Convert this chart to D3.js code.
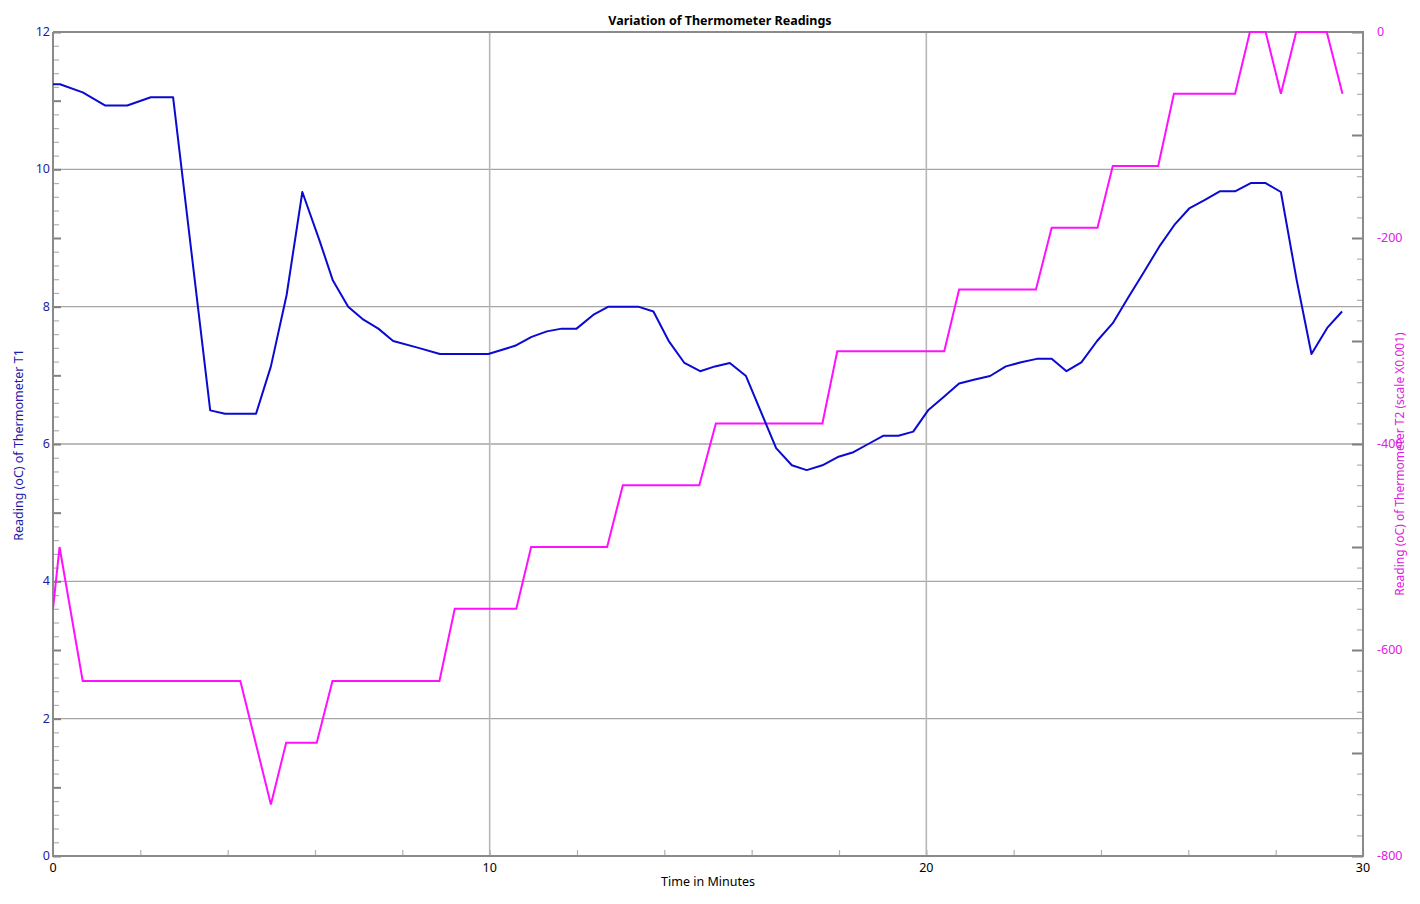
<!DOCTYPE html>
<html><head><meta charset="utf-8">
<script src="https://cdn.jsdelivr.net/npm/d3@7"></script>
<style>
html,body{margin:0;padding:0;background:#fff;}
svg text{font-family:"Noto Sans","Open Sans",sans-serif;}
</style></head>
<body><svg id="c" width="1420" height="904"></svg>
<script>
// Data (time in minutes)
const t1Time = [0,0.16,0.68,1.19,1.70,2.24,2.75,3.60,3.94,4.65,4.99,5.35,5.71,6.10,6.41,6.76,7.11,7.45,7.79,8.37,8.86,9.97,10.58,10.96,11.31,11.65,11.99,12.37,12.72,13.40,13.75,14.11,14.46,14.82,15.16,15.50,15.87,16.56,16.92,17.26,17.62,17.97,18.33,18.67,19.01,19.36,19.70,20.04,20.39,20.75,21.11,21.46,21.82,22.17,22.53,22.87,23.21,23.55,23.91,24.27,24.62,24.97,25.33,25.68,26.02,26.37,26.72,27.07,27.43,27.77,28.12,28.48,28.82,29.18,29.52];
const t1Value = [11.24,11.24,11.12,10.93,10.93,11.05,11.05,6.49,6.44,6.44,7.13,8.17,9.67,8.97,8.38,8.0,7.81,7.68,7.50,7.40,7.31,7.31,7.43,7.56,7.64,7.68,7.68,7.88,8.0,8.0,7.93,7.49,7.18,7.06,7.13,7.18,6.99,5.94,5.69,5.62,5.69,5.81,5.88,6.0,6.12,6.12,6.18,6.49,6.68,6.88,6.94,6.99,7.13,7.19,7.24,7.24,7.06,7.19,7.50,7.76,8.13,8.49,8.87,9.19,9.43,9.55,9.68,9.68,9.80,9.80,9.67,8.39,7.31,7.69,7.93];
const t2Time = [0,0.15,0.68,4.29,4.99,5.34,6.04,6.40,8.85,9.20,10.61,10.95,12.69,13.05,14.80,15.18,17.62,17.96,20.41,20.75,22.51,22.87,23.92,24.27,25.31,25.67,27.07,27.41,27.77,28.12,28.47,29.17,29.53];
const t2Value = [-560,-500,-630,-630,-750,-690,-690,-630,-630,-560,-560,-500,-500,-440,-440,-380,-380,-310,-310,-250,-250,-190,-190,-130,-130,-60,-60,0,0,-60,0,0,-60];
const xTickLabels = [0,10,20,30];
const yLeftTickLabels = [0,2,4,6,8,10,12];
const yRightTickLabels = [0,-200,-400,-600,-800];

const svg = d3.select("#c");
const L=53,R=1363,T=32,B=856;
const x = d3.scaleLinear().domain([0,30]).range([L,R]);
const yL = d3.scaleLinear().domain([0,12]).range([B,T]);
const yR = d3.scaleLinear().domain([-800,0]).range([B,T]);

const blueText="#1c1ca8", magText="#e020e0", axisCol="#8a8a8a";

// grid
const g = svg.append("g");
g.selectAll("line.hg").data([2,4,6,8,10]).join("line")
  .attr("x1",L).attr("x2",R).attr("y1",d=>yL(d)).attr("y2",d=>yL(d))
  .attr("stroke","#a6a6a6").attr("stroke-width",1.3);
g.selectAll("line.vg").data([10,20]).join("line")
  .attr("x1",d=>x(d)).attr("x2",d=>x(d)).attr("y1",T).attr("y2",B)
  .attr("stroke","#b8b8b8").attr("stroke-width",1.6);

// left axis
const leftAx = d3.axisRight(yL).tickValues(d3.range(0,12.01,0.2)).tickSize(6).tickFormat("");
const la = svg.append("g").attr("transform",`translate(${L},0)`).call(leftAx);
la.select(".domain").remove();
la.selectAll(".tick line").attr("stroke",d=>Math.abs(d-Math.round(d))<1e-6?"#808080":"#b0b0b0")
  .attr("x2",d=>Math.abs(d-Math.round(d))<1e-6?8:6).attr("stroke-width",d=>Math.abs(d-Math.round(d))<1e-6?2:1.2);
svg.selectAll("text.yl").data(yLeftTickLabels).join("text")
  .attr("x",L-3).attr("y",d=>yL(d)+4).attr("text-anchor","end")
  .attr("font-size",12.5).attr("fill",blueText).text(d=>d);

// right axis
const rightAx = d3.axisLeft(yR).tickValues(d3.range(-800,0.01,20)).tickSize(6).tickFormat("");
const ra = svg.append("g").attr("transform",`translate(${R},0)`).call(rightAx);
ra.select(".domain").remove();
ra.selectAll(".tick line").attr("stroke",d=>d%100===0?"#808080":"#b0b0b0")
  .attr("x2",d=>d%100===0?-11:-6).attr("stroke-width",d=>d%100===0?2:1.2);
svg.selectAll("text.yr").data(yRightTickLabels).join("text")
  .attr("x",R+14).attr("y",d=>yR(d)+4).attr("text-anchor","start")
  .attr("font-size",12.5).attr("fill",magText).text(d=>d);

// bottom axis
const botAx = d3.axisTop(x).tickValues(d3.range(0,30.01,2)).tickSize(6).tickFormat("");
const ba = svg.append("g").attr("transform",`translate(0,${B})`).call(botAx);
ba.select(".domain").remove();
ba.selectAll(".tick line").attr("stroke","#b0b0b0").attr("stroke-width",1.2);
svg.selectAll("text.xl").data(xTickLabels).join("text")
  .attr("x",d=>x(d)).attr("y",B+16).attr("text-anchor","middle")
  .attr("font-size",12.5).attr("fill","#000").text(d=>d);

// frame lines
svg.append("line").attr("x1",L).attr("x2",L).attr("y1",T).attr("y2",B+1).attr("stroke",axisCol).attr("stroke-width",2);
svg.append("line").attr("x1",R).attr("x2",R).attr("y1",T-1).attr("y2",B+1).attr("stroke",axisCol).attr("stroke-width",2);
svg.append("line").attr("x1",L).attr("x2",R).attr("y1",B).attr("y2",B).attr("stroke",axisCol).attr("stroke-width",2);
svg.append("line").attr("x1",L).attr("x2",R).attr("y1",T).attr("y2",T).attr("stroke",axisCol).attr("stroke-width",2);

// lines
const clip = svg.append("clipPath").attr("id","pc").append("rect").attr("x",L).attr("y",T-1).attr("width",R-L).attr("height",B-T+2);
const line1 = d3.line().x((d,i)=>x(t1Time[i])).y(d=>yL(d));
const line2 = d3.line().x((d,i)=>x(t2Time[i])).y(d=>yR(d));
svg.append("path").attr("d",line2(t2Value)).attr("fill","none").attr("stroke","#ff10ff").attr("stroke-width",2).attr("clip-path","url(#pc)");
svg.append("path").attr("d",line1(t1Value)).attr("fill","none").attr("stroke","#0a0ad0").attr("stroke-width",2).attr("stroke-linejoin","round").attr("clip-path","url(#pc)");

// titles
svg.append("text").attr("x",720).attr("y",25).attr("text-anchor","middle")
  .attr("font-size",12.5).attr("font-weight","bold").attr("fill","#000").text("Variation of Thermometer Readings");
svg.append("text").attr("x",708).attr("y",886).attr("text-anchor","middle")
  .attr("font-size",12.5).attr("fill","#000").text("Time in Minutes");
svg.append("text").attr("transform",`translate(23,445) rotate(-90)`).attr("text-anchor","middle")
  .attr("font-size",12.5).attr("fill",blueText).text("Reading (oC) of Thermometer T1");
svg.append("text").attr("transform",`translate(1404,464) rotate(-90)`).attr("text-anchor","middle")
  .attr("font-size",12).attr("fill",magText).text("Reading (oC) of Thermometer T2 (scale X0.001)");
</script></body></html>
